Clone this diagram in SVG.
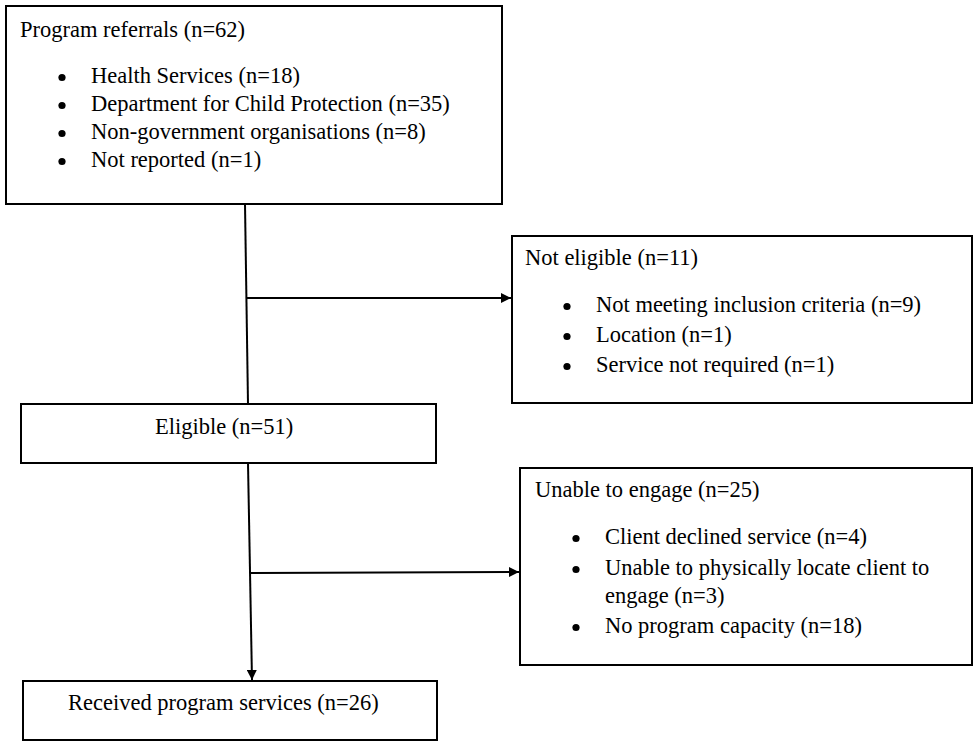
<svg xmlns="http://www.w3.org/2000/svg" width="974" height="742" viewBox="0 0 974 742">
<style>
.box{fill:#fff;stroke:#000;stroke-width:2}
.t{font-family:'Liberation Serif','Times New Roman','DejaVu Serif',serif;font-size:22.5px;fill:#000}
.c{fill:none;stroke:#000;stroke-width:2}
.dot{fill:#000}
</style>
<defs>
<marker id="ah" viewBox="0 0 10 10" refX="10" refY="5" markerWidth="10" markerHeight="10" markerUnits="userSpaceOnUse" orient="auto">
<path d="M0,0 L10,5 L0,10 Z" fill="#000"/>
</marker>
</defs>
<rect width="974" height="742" fill="#fff"/>
<g id="connectors">
<line class="c" x1="245" y1="204" x2="248" y2="404"/>
<line class="c" x1="247" y1="298" x2="511" y2="298" marker-end="url(#ah)"/>
<line class="c" x1="248" y1="463" x2="252" y2="680" marker-end="url(#ah)"/>
<line class="c" x1="251" y1="573" x2="519" y2="572" marker-end="url(#ah)"/>
</g>
<g id="referrals">
<rect class="box" x="6" y="6" width="496" height="198"/>
<text class="t" x="20" y="37">Program referrals (n=62)</text>
<circle class="dot" cx="62" cy="77.5" r="3.6"/><text class="t" x="91" y="83">Health Services (n=18)</text>
<circle class="dot" cx="62" cy="105.5" r="3.6"/><text class="t" x="91" y="111">Department for Child Protection (n=35)</text>
<circle class="dot" cx="62" cy="133.5" r="3.6"/><text class="t" x="91" y="139">Non-government organisations (n=8)</text>
<circle class="dot" cx="62" cy="161.5" r="3.6"/><text class="t" x="91" y="167">Not reported (n=1)</text>
</g>
<g id="not-eligible">
<rect class="box" x="512" y="236" width="460" height="167"/>
<text class="t" x="525" y="265">Not eligible (n=11)</text>
<circle class="dot" cx="567" cy="306.5" r="3.6"/><text class="t" x="596" y="312">Not meeting inclusion criteria (n=9)</text>
<circle class="dot" cx="567" cy="336.5" r="3.6"/><text class="t" x="596" y="342">Location (n=1)</text>
<circle class="dot" cx="567" cy="366.5" r="3.6"/><text class="t" x="596" y="372">Service not required (n=1)</text>
</g>
<g id="eligible">
<rect class="box" x="21" y="404" width="415" height="59"/>
<text class="t" x="155" y="434">Eligible (n=51)</text>
</g>
<g id="unable">
<rect class="box" x="520" y="468" width="452" height="197"/>
<text class="t" x="535" y="497">Unable to engage (n=25)</text>
<circle class="dot" cx="576" cy="538.5" r="3.6"/><text class="t" x="605" y="544">Client declined service (n=4)</text>
<circle class="dot" cx="576" cy="569.5" r="3.6"/><text class="t" x="605" y="575">Unable to physically locate client to</text>
<text class="t" x="605" y="603">engage (n=3)</text>
<circle class="dot" cx="576" cy="627.5" r="3.6"/><text class="t" x="605" y="633">No program capacity (n=18)</text>
</g>
<g id="received">
<rect class="box" x="23" y="681" width="414" height="59"/>
<text class="t" x="68" y="710">Received program services (n=26)</text>
</g>
</svg>
